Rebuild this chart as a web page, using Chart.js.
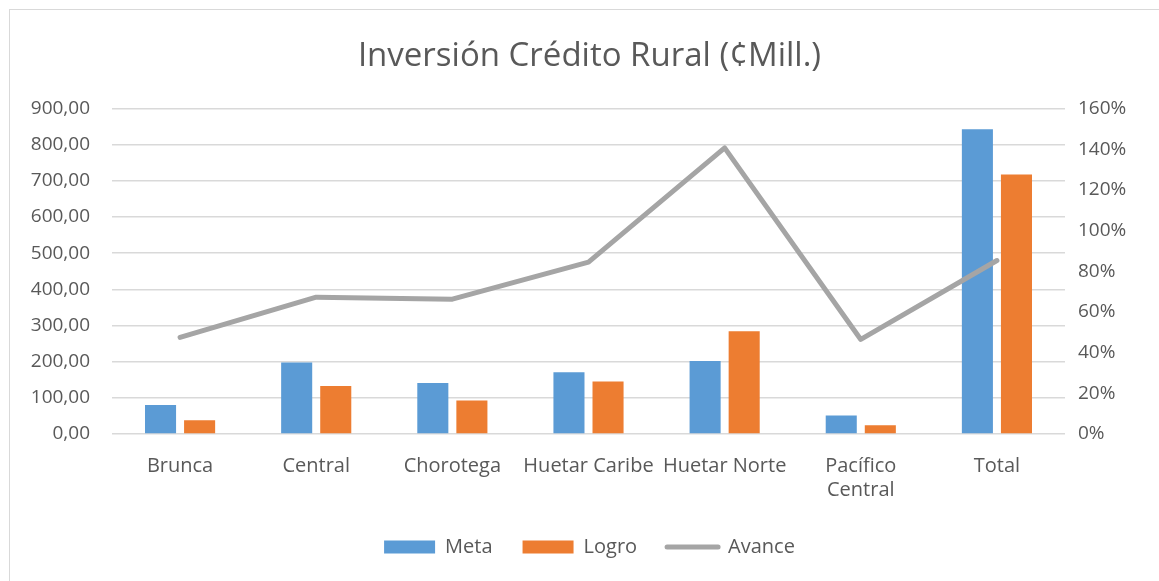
<!DOCTYPE html>
<html>
<head>
<meta charset="utf-8">
<script src="https://cdn.jsdelivr.net/npm/chart.js@4"></script>
<style>
  html, body { margin: 0; padding: 0; background: #fff; overflow: hidden; }
  #wrap { position: relative; width: 1159px; height: 581px; }
  #frame { position: absolute; left: 9px; top: 9px; width: 1160px; height: 580px; border: 1px solid #D9D9D9; box-sizing: border-box; pointer-events: none; }
  canvas { position: absolute; left: 0; top: 0; }
</style>
</head>
<body>
<div id="wrap">
  <canvas id="c" width="1159" height="581"></canvas>
  <div id="frame"></div>
</div>
<script>
const categories = ["Brunca", "Central", "Chorotega", "Huetar Caribe", "Huetar Norte", ["Pacífico", "Central"], "Total"];
const meta = [80, 198, 141, 171, 202, 51, 843];
const logro = [38, 133, 93, 145, 284, 24, 718];
const avance = [47.5, 67.3, 66.3, 84.5, 140.7, 46.5, 85.3];
const leftTicks = [0, 100, 200, 300, 400, 500, 600, 700, 800, 900];
const rightTicks = [0, 20, 40, 60, 80, 100, 120, 140, 160];

const FONT = "'Open Sans', sans-serif";
const TXT = "#595959";

new Chart(document.getElementById('c'), {
  type: 'bar',
  data: {
    labels: categories,
    datasets: [
      { label: 'Meta', data: meta, backgroundColor: '#5B9BD5', yAxisID: 'y', order: 2,
        categoryPercentage: 0.574, barPercentage: 0.795 },
      { label: 'Logro', data: logro, backgroundColor: '#ED7D31', yAxisID: 'y', order: 2,
        categoryPercentage: 0.574, barPercentage: 0.795 },
      { label: 'Avance', type: 'line', data: avance, borderColor: '#A5A5A5', backgroundColor: '#A5A5A5',
        borderWidth: 5, pointRadius: 0, tension: 0, borderCapStyle: 'round', borderJoinStyle: 'round',
        yAxisID: 'y1', order: 0 }
    ]
  },
  options: {
    responsive: false,
    animation: false,
    layout: { padding: { left: 20, right: 0, top: 0, bottom: 14 } },
    plugins: {
      title: {
        display: true,
        text: 'Inversión Crédito Rural (¢Mill.)',
        color: TXT,
        font: { family: FONT, size: 33, weight: 'normal' },
        padding: { top: 37, bottom: 32 }
      },
      legend: {
        position: 'bottom',
        labels: {
          color: TXT,
          font: { family: FONT, size: 20 },
          usePointStyle: true,
          pointStyleWidth: 51,
          boxHeight: 13,
          padding: 30,
          generateLabels(chart) {
            const items = Chart.defaults.plugins.legend.labels.generateLabels(chart);
            items.sort((a, b) => a.datasetIndex - b.datasetIndex);
            items.forEach(it => {
              const ds = chart.data.datasets[it.datasetIndex];
              if (ds.type === 'line') {
                it.pointStyle = 'line'; it.lineWidth = 5; it.strokeStyle = '#A5A5A5'; it.fillStyle = '#A5A5A5'; it.lineCap = 'round';
              } else {
                it.pointStyle = 'rect'; it.lineWidth = 0; it.fillStyle = ds.backgroundColor; it.strokeStyle = ds.backgroundColor;
              }
            });
            return items;
          }
        }
      },
      tooltip: { enabled: false }
    },
    scales: {
      x: {
        grid: { display: false, drawTicks: false },
        border: { display: false },
        afterFit(s) { s.height = 73; },
        ticks: { color: TXT, font: { family: FONT, size: 20 }, padding: 20, maxRotation: 0, autoSkip: false }
      },
      y: {
        position: 'left',
        min: 0, max: 900,
        afterBuildTicks(s) { s.ticks = leftTicks.map(v => ({ value: v })); },
        afterFit(s) { s.width = 92; },
        grid: { color: '#D9D9D9', lineWidth: 1.5, drawTicks: false },
        border: { display: false },
        ticks: { color: TXT, font: { family: FONT, size: 19 }, padding: 22,
          callback: v => v.toFixed(2).replace('.', ',') }
      },
      y1: {
        position: 'right',
        min: 0, max: 160,
        afterBuildTicks(s) { s.ticks = rightTicks.map(v => ({ value: v })); },
        afterFit(s) { s.width = 94; },
        grid: { display: false, drawTicks: false },
        border: { display: false },
        ticks: { color: TXT, font: { family: FONT, size: 19 }, padding: 13,
          callback: v => v + '%' }
      }
    }
  }
});
</script>
</body>
</html>
